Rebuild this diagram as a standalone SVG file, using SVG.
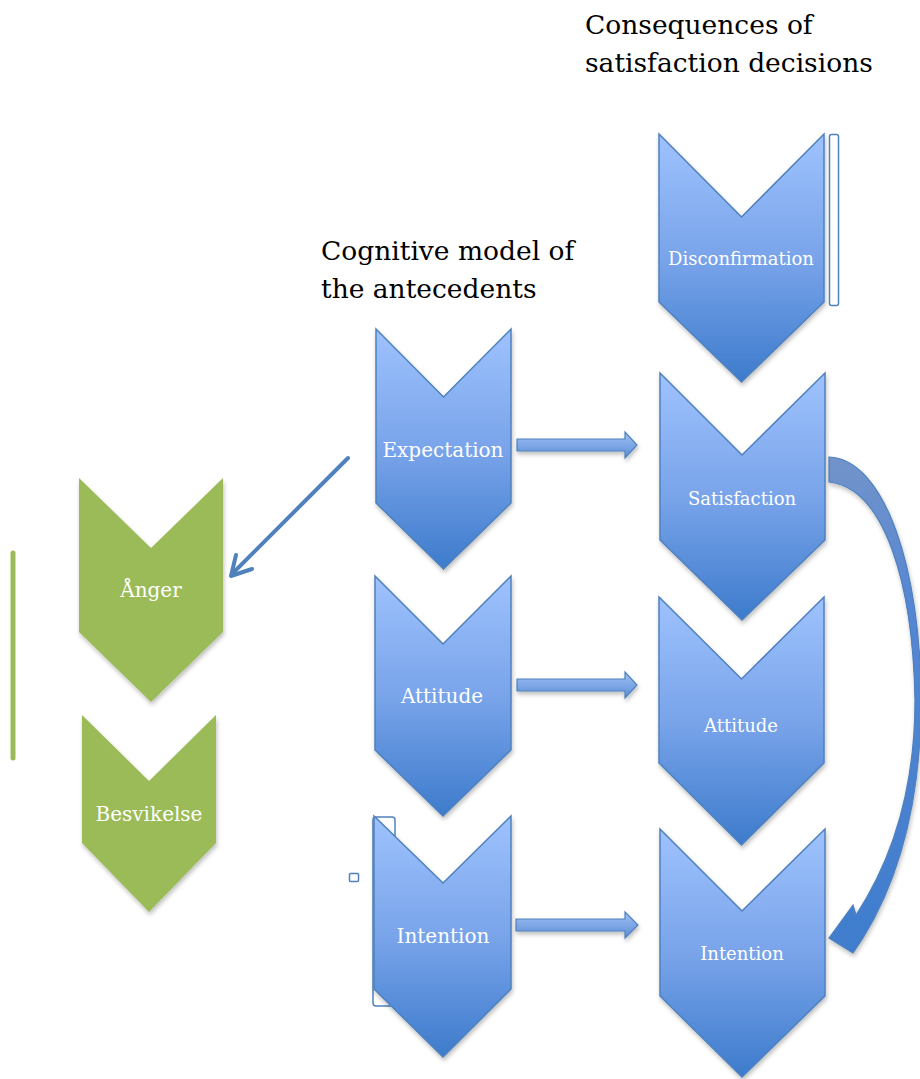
<svg xmlns="http://www.w3.org/2000/svg" width="920" height="1079" viewBox="0 0 920 1079">
<defs>
<linearGradient id="gb" x1="0" y1="0" x2="0" y2="1">
<stop offset="0" stop-color="#9EC2FD"/>
<stop offset="0.5" stop-color="#79A4EA"/>
<stop offset="1" stop-color="#3D7BCC"/>
</linearGradient>
<linearGradient id="ga" x1="0" y1="0" x2="0" y2="1">
<stop offset="0" stop-color="#A2C2F5"/>
<stop offset="1" stop-color="#5B8DD8"/>
</linearGradient>
<linearGradient id="gc" x1="0" y1="0" x2="0" y2="1">
<stop offset="0" stop-color="#7394CA"/>
<stop offset="0.3" stop-color="#5586D3"/>
<stop offset="1" stop-color="#3F7DCD"/>
</linearGradient>
<filter id="sh" x="-20%" y="-10%" width="140%" height="130%">
<feDropShadow dx="1" dy="3" stdDeviation="2" flood-color="#000" flood-opacity="0.25"/>
</filter>
</defs>
<style>
.cb{fill:url(#gb);stroke:#4F81BD;stroke-width:1.5;filter:url(#sh)}
.cg{fill:#9BBB59;filter:url(#sh)}
.lbl{font-family:"DejaVu Serif","Liberation Serif",serif;font-size:18px;fill:#FFFFFF;text-anchor:middle}
.big{font-size:20px}
.hd{font-family:"DejaVu Serif","Liberation Serif",serif;font-size:26.5px;fill:#000000}
.ba{fill:url(#ga);stroke:#4F81BD;stroke-width:1.2;filter:url(#sh)}
.ol{fill:#FFFFFF;stroke:#4F81BD;stroke-width:1.5}
</style>
<rect width="920" height="1079" fill="#FFFFFF"/>

<g id="titles">
<text class="hd" x="585" y="34">Consequences of</text>
<text class="hd" x="585" y="72">satisfaction decisions</text>
<text class="hd" x="321" y="260">Cognitive model of</text>
<text class="hd" x="321" y="298">the antecedents</text>
</g>

<g id="decorations">
<rect class="ol" x="829.5" y="134.5" width="9" height="171" rx="2"/>
<rect class="ol" x="373" y="817" width="22" height="189" rx="3"/>
<rect class="ol" x="349.5" y="873.5" width="9" height="8" rx="1"/>
<line x1="13" y1="553" x2="13" y2="758" stroke="#9BBB59" stroke-width="5" stroke-linecap="round"/>
</g>

<g id="connectors">
<path class="ba" d="M517 439 L625 439 L625 432 L637 445 L625 458 L625 451 L517 451 Z"/>
<path class="ba" d="M517 679 L625 679 L625 672 L637 685 L625 698 L625 691 L517 691 Z"/>
<path class="ba" d="M516 919 L625 919 L625 912 L638 925 L625 938 L625 931 L516 931 Z"/>
<g fill="none" stroke="#4F81BD" stroke-width="4" stroke-linecap="round" stroke-linejoin="round">
<line x1="348" y1="458" x2="232" y2="574"/>
<polyline points="236,555 231,576 252,569"/>
</g>
<path d="M829 457 C885 459 921 570 921 700 C921 800 900 878 863 938 L853 953 L829 938 L853 905 L856 915 C892 860 915 790 915 700 C913 585 885 488 829 482 Z" fill="url(#gc)" stroke="#4F81BD" stroke-width="1.2" filter="url(#sh)"/>
</g>

<g id="disconfirmation">
<path class="cb" d="M659 134 L741.5 217 L824 134 L824 302 L741.5 382 L659 302 Z"/>
<text class="lbl" x="741" y="265">Disconfirmation</text>
</g>
<g id="satisfaction">
<path class="cb" d="M660 373 L742 455 L825 373 L825 540 L742 620 L660 540 Z"/>
<text class="lbl" x="742" y="505">Satisfaction</text>
</g>
<g id="attitude-right">
<path class="cb" d="M659 597 L741.5 679 L824 597 L824 763 L741.5 845 L659 763 Z"/>
<text class="lbl" x="741" y="732">Attitude</text>
</g>
<g id="intention-right">
<path class="cb" d="M660 829 L742 911 L825 829 L825 996 L742 1077 L660 996 Z"/>
<text class="lbl" x="742" y="960">Intention</text>
</g>
<g id="expectation">
<path class="cb" d="M376 329 L443.5 397 L511 329 L511 503 L443.5 569 L376 503 Z"/>
<text class="lbl big" x="443" y="457">Expectation</text>
</g>
<g id="attitude-left">
<path class="cb" d="M375 576 L443 644 L511 576 L511 750 L443 816 L375 750 Z"/>
<text class="lbl big" x="442" y="703">Attitude</text>
</g>
<g id="intention-left">
<path class="cb" d="M374 816 L443 883 L511 816 L511 989 L443 1057 L374 989 Z"/>
<text class="lbl big" x="443" y="943">Intention</text>
</g>
<g id="anger">
<path class="cg" d="M79 478 L151 548 L223 478 L223 632 L151 702 L79 632 Z"/>
<text class="lbl big" x="151" y="597">Ånger</text>
</g>
<g id="besvikelse">
<path class="cg" d="M82 715 L149 781 L216 715 L216 843 L149 912 L82 843 Z"/>
<text class="lbl big" x="149" y="821">Besvikelse</text>
</g>
</svg>
